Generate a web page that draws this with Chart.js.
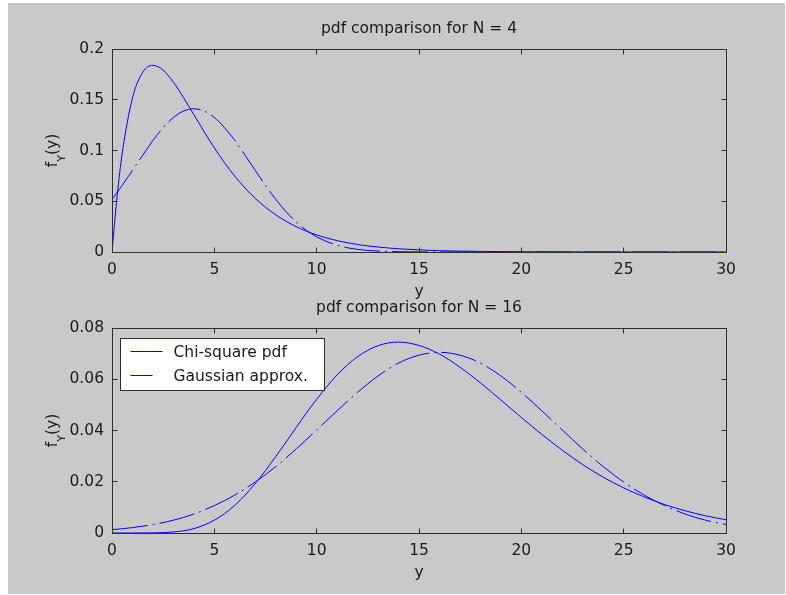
<!DOCTYPE html>
<html>
<head>
<meta charset="utf-8">
<script src="https://cdn.jsdelivr.net/npm/chart.js@4.4.1/dist/chart.umd.min.js"></script>
<style>
  body { margin: 0; background: #fff; }
  #fig { position: absolute; left: 8px; top: 3px; width: 777px; height: 591px; background: #c9c9c9; }
  canvas { position: absolute; left: 0; }
  #pdf4 { top: 0; }
  #pdf16 { top: 300px; }
</style>
</head>
<body>
<div id="fig"></div>
<canvas id="pdf4" width="786" height="300"></canvas>
<canvas id="pdf16" width="786" height="295"></canvas>
<script>
// tick positions
const xTicks = [0, 5, 10, 15, 20, 25, 30];
const yTicks4 = [0, 0.05, 0.1, 0.15, 0.2];
const yTicks16 = [0, 0.02, 0.04, 0.06, 0.08];

// N = 4
const y4 = [0, 0.25, 0.5, 1, 1.5, 2, 2.5, 3, 3.5, 4, 4.5, 5, 5.5, 6, 6.5, 7, 7.5, 8, 8.5, 9, 9.5, 10,
            11, 12, 13, 14, 15, 16, 18, 20, 22, 25, 30];
const chi4 = [0, 0.0552, 0.0974, 0.1516, 0.1771, 0.1839, 0.1791, 0.1673, 0.1520, 0.1353, 0.1186, 0.1026,
              0.0879, 0.0747, 0.0630, 0.0528, 0.0441, 0.0366, 0.0303, 0.0250, 0.0205, 0.0168,
              0.0112, 0.0074, 0.0049, 0.0032, 0.0021, 0.0013, 0.0006, 0.0002, 0.0001, 0, 0];
const gauss4 = [0.0519, 0.0586, 0.0656, 0.0804, 0.0954, 0.1099, 0.1225, 0.1325, 0.1389, 0.1411, 0.1389, 0.1325,
                0.1225, 0.1099, 0.0954, 0.0804, 0.0656, 0.0519, 0.0398, 0.0296, 0.0213, 0.0149,
                0.0066, 0.0026, 0.0009, 0.0003, 0.0001, 0, 0, 0, 0, 0, 0];

// N = 16
const y16 = [0, 1, 2, 3, 4, 5, 6, 7, 8, 9, 10, 11, 12, 13, 14, 15, 16, 17, 18, 19, 20,
             21, 22, 23, 24, 25, 26, 27, 28, 29, 30];
const chi16 = [0, 0, 0.00004, 0.0004, 0.0017, 0.0050, 0.0108, 0.0193, 0.0298, 0.0412, 0.0522,
               0.0617, 0.0688, 0.0731, 0.0745, 0.0732, 0.0698, 0.0647, 0.0586, 0.0519, 0.0451,
               0.0385, 0.0323, 0.0267, 0.0218, 0.0176, 0.0141, 0.0111, 0.0087, 0.0067, 0.0052];
const gauss16 = [0.0013, 0.0021, 0.0033, 0.0050, 0.0074, 0.0107, 0.0148, 0.0199, 0.0259, 0.0328, 0.0402,
                 0.0477, 0.0549, 0.0613, 0.0663, 0.0694, 0.0705, 0.0694, 0.0663, 0.0613, 0.0549,
                 0.0477, 0.0402, 0.0328, 0.0259, 0.0199, 0.0148, 0.0107, 0.0074, 0.0050, 0.0033];

const FAMILY = '"DejaVu Sans", sans-serif';
const SIZE = 15.5;
const INK = '#1a1a1a';
const AXIS = '#2e2e2e';
const BLUE = '#0000ff';
const DASHDOT = [36, 5, 2, 5];

// matlab-ish axes: box, inward ticks on all sides, title, labels, legend
const matlabAxes = {
  id: 'matlabAxes',
  afterDraw(chart, args, opts) {
    const { ctx, chartArea: a, scales } = chart;
    const L = Math.floor(a.left) + 0.5, R = Math.floor(a.right) + 0.5;
    const T = Math.floor(a.top) + 0.5, B = Math.floor(a.bottom) + 0.5;
    ctx.save();
    ctx.strokeStyle = AXIS;
    ctx.lineWidth = 1;
    ctx.setLineDash([]);
    ctx.strokeRect(L, T, R - L, B - T);
    ctx.beginPath();
    scales.x.ticks.forEach(t => {
      const px = Math.floor(scales.x.getPixelForValue(t.value)) + 0.5;
      ctx.moveTo(px, B); ctx.lineTo(px, B - 5);
      ctx.moveTo(px, T); ctx.lineTo(px, T + 5);
    });
    scales.y.ticks.forEach(t => {
      const py = Math.floor(scales.y.getPixelForValue(t.value)) + 0.5;
      ctx.moveTo(L, py); ctx.lineTo(L + 5, py);
      ctx.moveTo(R, py); ctx.lineTo(R - 5, py);
    });
    ctx.stroke();

    const cx = (a.left + a.right) / 2;
    ctx.fillStyle = INK;
    ctx.font = SIZE + 'px ' + FAMILY;
    ctx.textAlign = 'center';
    ctx.textBaseline = 'alphabetic';
    ctx.fillText(opts.title, cx, a.top - 16);
    ctx.fillText('y', cx, a.bottom + 44);

    // f_Y(y), rotated, with subscript
    const subSize = 11;
    const parts = [['f', SIZE, 0], ['Y', subSize, 8], ['(y)', SIZE, 0]];
    let total = 0;
    parts.forEach(p => { ctx.font = p[1] + 'px ' + FAMILY; p.push(ctx.measureText(p[0]).width); total += p[3]; });
    ctx.translate(56.5, (a.top + a.bottom) / 2);
    ctx.rotate(-Math.PI / 2);
    ctx.textAlign = 'left';
    let tx = -total / 2;
    parts.forEach(p => {
      ctx.font = p[1] + 'px ' + FAMILY;
      ctx.fillText(p[0], tx, p[2]);
      tx += p[3];
    });
    ctx.restore();

    if (opts.legend) {
      ctx.save();
      ctx.font = SIZE + 'px ' + FAMILY;
      const sets = chart.data.datasets;
      const textW = Math.max(...sets.map(d => ctx.measureText(d.label).width));
      const bx = Math.floor(a.left + 8) + 0.5, by = Math.floor(a.top + 10) + 0.5;
      const bw = Math.round(53 + textW + 17), bh = 52;
      ctx.fillStyle = '#fff';
      ctx.fillRect(bx, by, bw, bh);
      ctx.strokeStyle = AXIS;
      ctx.lineWidth = 1;
      ctx.strokeRect(bx, by, bw, bh);
      sets.forEach((d, i) => {
        const ry = Math.floor(by + 13 + i * 24) + 0.5;
        ctx.strokeStyle = d.borderColor;
        // sample segment only fits the first dash of the dash-dot pattern
        ctx.setLineDash(d.borderDash ? [22, 40] : []);
        ctx.beginPath();
        ctx.moveTo(bx + 10, ry);
        ctx.lineTo(bx + 42, ry);
        ctx.stroke();
        ctx.fillStyle = INK;
        ctx.textAlign = 'left';
        ctx.textBaseline = 'middle';
        ctx.fillText(d.label, bx + 53, ry + 1);
      });
      ctx.restore();
    }
  }
};

function pts(xs, ys) {
  return xs.map((x, i) => ({ x: x, y: ys[i] }));
}

function makeChart(id, xs, chi, gauss, yTicks, yMax, pad, xHeight, title, legend) {
  const font = { family: FAMILY, size: SIZE };
  return new Chart(document.getElementById(id), {
    type: 'line',
    data: {
      datasets: [
        { label: 'Chi-square pdf', data: pts(xs, chi), borderColor: BLUE, borderWidth: 1,
          pointRadius: 0, cubicInterpolationMode: 'monotone', fill: false },
        { label: 'Gaussian approx.', data: pts(xs, gauss), borderColor: BLUE, borderWidth: 1,
          borderDash: DASHDOT, pointRadius: 0, cubicInterpolationMode: 'monotone', fill: false }
      ]
    },
    options: {
      responsive: false,
      animation: false,
      layout: { padding: { top: pad, right: 60, left: 0, bottom: 0 } },
      plugins: {
        legend: { display: false },
        tooltip: { enabled: false },
        matlabAxes: { title: title, legend: legend }
      },
      scales: {
        x: {
          type: 'linear', min: 0, max: 30,
          grid: { display: false, drawTicks: false },
          border: { display: false },
          ticks: { font: font, color: INK, padding: 9, maxRotation: 0, callback: v => String(v) },
          afterBuildTicks: s => { s.ticks = xTicks.map(v => ({ value: v })); },
          afterFit: s => { s.height = xHeight; }
        },
        y: {
          type: 'linear', min: 0, max: yMax,
          grid: { display: false, drawTicks: false },
          border: { display: false },
          ticks: { font: font, color: INK, padding: 8, callback: v => String(v) },
          afterBuildTicks: s => { s.ticks = yTicks.map(v => ({ value: v })); },
          afterFit: s => { s.width = 112; }
        }
      }
    },
    plugins: [matlabAxes]
  });
}

makeChart('pdf4', y4, chi4, gauss4, yTicks4, 0.2, 49, 48, 'pdf comparison for N = 4', false);
makeChart('pdf16', y16, chi16, gauss16, yTicks16, 0.08, 28, 62, 'pdf comparison for N = 16', true);
</script>
</body>
</html>
